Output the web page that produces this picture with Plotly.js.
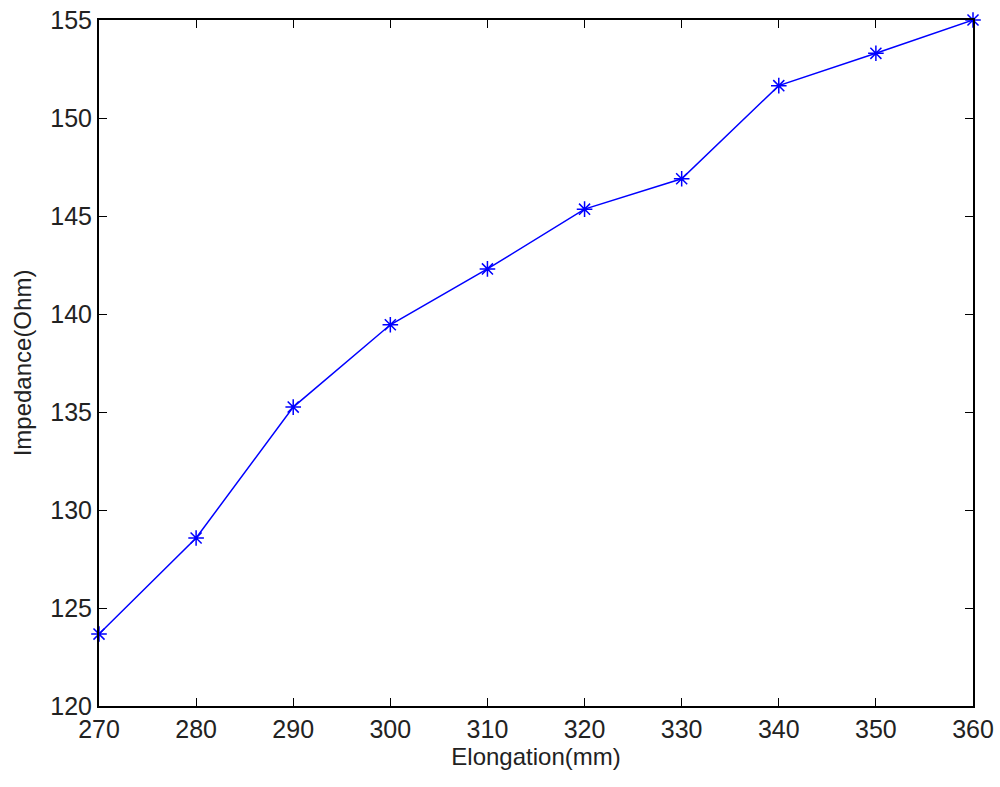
<!DOCTYPE html>
<html>
<head>
<meta charset="utf-8">
<script src="https://cdn.plot.ly/plotly-3.0.1.min.js"></script>
<style>
  html, body { margin: 0; padding: 0; background: #fff; }
  #chart { width: 1000px; height: 787px; }
</style>
</head>
<body>
<div id="chart"></div>
<script>
// elongation (mm) vs impedance (Ohm)
const elongation = [270, 280, 290, 300, 310, 320, 330, 340, 350, 360];
const impedance = [123.67, 128.57, 135.25, 139.45, 142.3, 145.35, 146.9, 151.65, 153.3, 155.0];
const xTicks = [270, 280, 290, 300, 310, 320, 330, 340, 350, 360];
const yTicks = [120, 125, 130, 135, 140, 145, 150, 155];

let trace = {
  x: elongation,
  y: impedance,
  mode: 'lines+markers',
  line: { color: '#0000ff', width: 1.5 },
  marker: { symbol: 'asterisk-open', size: 13, color: '#0000ff', line: { color: '#0000ff', width: 1.5 } },
  showlegend: false,
  cliponaxis: false
};

let fam = 'Liberation Sans, Arial, sans-serif';
let tickFont = { family: fam, size: 25, color: '#222' };
let titleFont = { family: fam, size: 24, color: '#222' };

let layout = {
  width: 1000,
  height: 787,
  margin: { l: 99, r: 27, t: 20, b: 81 },
  paper_bgcolor: '#fff',
  plot_bgcolor: '#fff',
  font: tickFont,
  xaxis: {
    range: [270, 360],
    tickvals: xTicks,
    ticks: 'inside',
    ticklen: 8,
    tickcolor: '#000',
    showline: true,
    linecolor: '#000',
    linewidth: 2,
    mirror: 'ticks',
    showgrid: false,
    zeroline: false,
    tickfont: tickFont,
    title: { text: 'Elongation(mm)', font: titleFont, standoff: 6 }
  },
  yaxis: {
    range: [120, 155],
    tickvals: yTicks,
    ticks: 'inside',
    ticklen: 8,
    tickcolor: '#000',
    showline: true,
    linecolor: '#000',
    linewidth: 2,
    mirror: 'ticks',
    showgrid: false,
    zeroline: false,
    tickfont: tickFont,
    title: { text: 'Impedance(Ohm)', font: titleFont, standoff: 12 }
  }
};

Plotly.newPlot('chart', [trace], layout, { staticPlot: true });
</script>
</body>
</html>
